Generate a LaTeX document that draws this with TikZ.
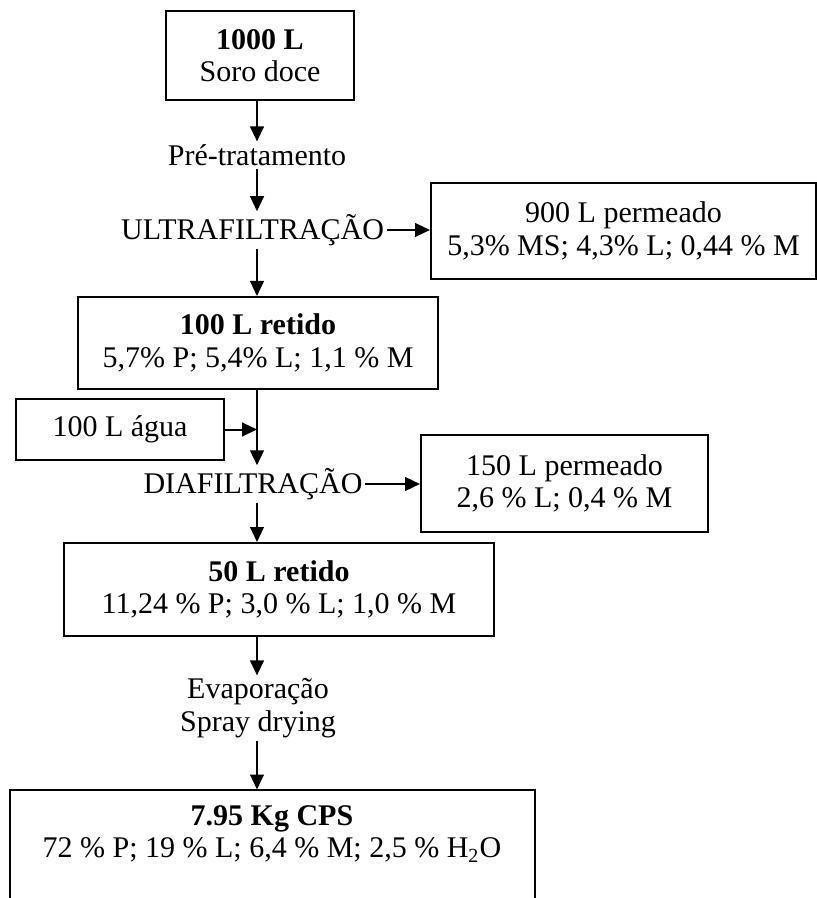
\documentclass[tikz,border=0pt]{standalone}
\usepackage{fontspec}
\setmainfont{Liberation Serif}
\usetikzlibrary{arrows.meta}

\begin{document}
\begin{tikzpicture}[x=0.4pt, y=-0.4pt,
    every node/.style={font=\fontsize{12}{13}\selectfont, align=center, inner sep=1pt},
    caixa/.style={draw, line width=0.8pt, inner sep=0pt},
    seta/.style={line width=0.8pt, -{Triangle[length=6pt,width=5.5pt]}}]
  \def \px {0.4pt}
  \def \eixo {257}

  \useasboundingbox (0,0) rectangle (817,898);

  % linha principal
  \node[caixa, minimum width=188*\px, minimum height=89*\px] at (260,55.5) (soro) {\textbf{1000 L}\\Soro doce};
  \node at (\eixo,155) (pre) {Pré-tratamento};
  \node at (252.5,230) (ultra) {ULTRAFILTRAÇÃO};
  \node[caixa, minimum width=360*\px, minimum height=92*\px] at (258,343) (retido1) {\textbf{100 L retido}\\5,7\% P; 5,4\% L; 1,1 \% M};
  \node at (253,484) (diaf) {DIAFILTRAÇÃO};
  \node[caixa, minimum width=430*\px, minimum height=93*\px] at (279,589.5) (retido2) {\textbf{50 L retido}\\11,24 \% P; 3,0 \% L; 1,0 \% M};
  \node at (258,708) (evap) {Evaporação\\Spray drying};
  \node[minimum width=524*\px, minimum height=88*\px, inner sep=0pt] at (272,834) (cps) {\textbf{7.95 Kg CPS}\\72 \% P; 19 \% L; 6,4 \% M; 2,5 \% H\textsubscript{2}O};

  % entradas e saidas laterais
  \node[caixa, minimum width=385*\px, minimum height=96*\px] at (623.5,231) (perm1) {900 L permeado\\5,3\% MS; 4,3\% L; 0,44 \% M};
  \node[caixa, minimum width=208*\px, minimum height=61*\px] at (120,429.5) (agua) {100 L água};
  \node[caixa, minimum width=287*\px, minimum height=97*\px] at (564.5,483.5) (perm2) {150 L permeado\\2,6 \% L; 0,4 \% M};

  \coordinate (juncao) at (\eixo,426);
  \coordinate (fundo) at (0,900);

  % caixa final aberta em baixo
  \draw[line width=0.8pt] (cps.north west |- fundo) |- (cps.north east) -- (cps.north east |- fundo);

  \draw[seta] (pre |- soro.south) -- (pre.north);
  \draw[seta] (pre.south) -- (pre.south |- ultra.north);
  \draw[seta] (ultra.east) -- (ultra.east -| perm1.west);
  \draw[seta] (pre |- ultra.south) -- (pre |- retido1.north);
  \draw[seta] (agua.east) -- (agua.east -| juncao);
  \draw[seta] (pre |- retido1.south) -- (pre |- diaf.north);
  \draw[seta] (diaf.east) -- (diaf.east -| perm2.west);
  \draw[seta] (pre |- diaf.south) -- (pre |- retido2.north);
  \draw[seta] (pre |- retido2.south) -- (pre |- evap.north);
  \draw[seta] (pre |- evap.south) -- (pre |- cps.north);
\end{tikzpicture}
\end{document}
